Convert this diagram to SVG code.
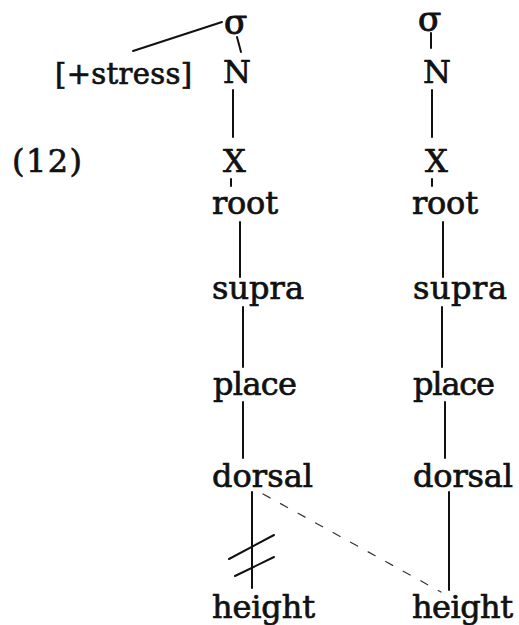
<svg xmlns="http://www.w3.org/2000/svg" width="519" height="625" viewBox="0 0 519 625">
<style>
text{font-family:"DejaVu Serif","Liberation Serif",serif;font-size:32px;fill:#111;stroke:#111;stroke-width:0.7}
.s{font-size:29px}
.g{font-size:34px;stroke-width:1}
line{stroke:#111;stroke-width:2;stroke-linecap:round}
.d{stroke-width:1.2;stroke-dasharray:8 12;stroke:#333}
</style>
<rect width="519" height="625" fill="#fff"/>
<g id="label12"><text x="12" y="172" textLength="70" lengthAdjust="spacing">(12)</text></g>
<g id="stress"><text class="s" x="55" y="84" textLength="137" lengthAdjust="spacing">[+stress]</text></g>
<g id="sigma1"><text class="g" x="224" y="34">σ</text></g>
<g id="N1"><text x="223" y="83">N</text></g>
<g id="X1"><text x="223" y="172">X</text></g>
<g id="root1"><text x="212" y="214" textLength="66" lengthAdjust="spacing">root</text></g>
<g id="supra1"><text x="212" y="299" textLength="92" lengthAdjust="spacing">supra</text></g>
<g id="place1"><text x="213" y="395" textLength="84" lengthAdjust="spacing">place</text></g>
<g id="dorsal1"><text x="212" y="487" textLength="101" lengthAdjust="spacing">dorsal</text></g>
<g id="height1"><text x="212" y="618" textLength="103" lengthAdjust="spacing">height</text></g>
<g id="sigma2"><text class="g" x="418" y="31">σ</text></g>
<g id="N2"><text x="423" y="83">N</text></g>
<g id="X2"><text x="425" y="172">X</text></g>
<g id="root2"><text x="412" y="214" textLength="66" lengthAdjust="spacing">root</text></g>
<g id="supra2"><text x="413" y="299" textLength="94" lengthAdjust="spacing">supra</text></g>
<g id="place2"><text x="413" y="395" textLength="82" lengthAdjust="spacing">place</text></g>
<g id="dorsal2"><text x="413" y="487" textLength="100" lengthAdjust="spacing">dorsal</text></g>
<g id="height2"><text x="412" y="618" textLength="101" lengthAdjust="spacing">height</text></g>
<g id="connectors">
<line x1="133" y1="51" x2="222" y2="22"/>
<line x1="237" y1="37" x2="241" y2="52"/>
<line x1="233" y1="90" x2="233" y2="137"/>
<line x1="231" y1="179" x2="231" y2="186"/>
<line x1="240" y1="222" x2="240" y2="277"/>
<line x1="243" y1="307" x2="243" y2="367"/>
<line x1="243" y1="402" x2="243" y2="458"/>
<line x1="252" y1="492" x2="252" y2="588"/>
<line x1="229" y1="559" x2="274" y2="535"/>
<line x1="235" y1="576" x2="274" y2="557"/>
<line class="d" x1="263" y1="494" x2="441" y2="592"/>
<line x1="431" y1="33" x2="431" y2="48"/>
<line x1="432" y1="90" x2="432" y2="137"/>
<line x1="432" y1="179" x2="432" y2="186"/>
<line x1="443" y1="222" x2="443" y2="277"/>
<line x1="442" y1="307" x2="442" y2="367"/>
<line x1="445" y1="402" x2="445" y2="458"/>
<line x1="449" y1="492" x2="449" y2="590"/>
</g>
</svg>
